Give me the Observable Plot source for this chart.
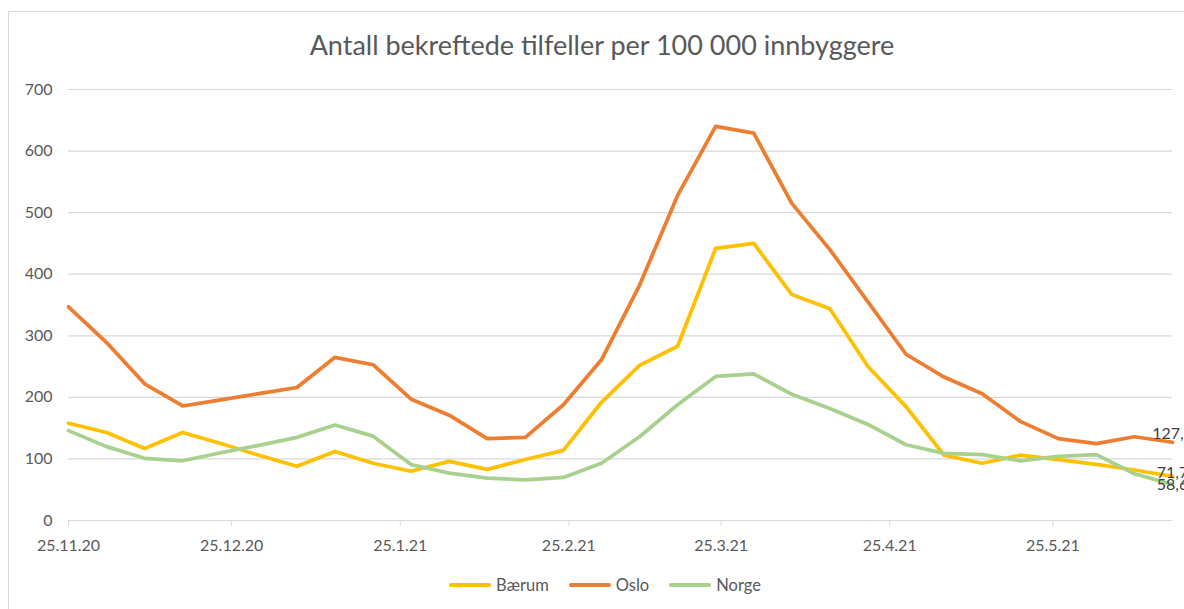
<!DOCTYPE html>
<html>
<head>
<meta charset="utf-8">
<script src="https://cdn.jsdelivr.net/npm/d3@7"></script>
<script src="https://cdn.jsdelivr.net/npm/@observablehq/plot@0.6"></script>
<style>
  html, body { margin: 0; padding: 0; background: #fff; }
  #wrap { position: relative; width: 1184px; height: 609px; overflow: hidden; background: #fff; font-family: Lato, "Open Sans", sans-serif; }
  #frame { position: absolute; left: 8px; top: 11px; width: 1300px; height: 800px; border: 1.5px solid #d9d9d9; box-sizing: border-box; }
  #title { position: absolute; left: 0; top: 28px; width: 1204px; text-align: center; font-size: 27px; color: #595959; }
  #chart { position: absolute; left: 0; top: 60px; }
  #legend { position: absolute; left: 0; top: 575px; width: 1210px; display: flex; justify-content: center; align-items: center; font-size: 16.5px; color: #595959; }
  .item { display: flex; align-items: center; margin: 0 10px; }
  .sw { width: 42px; height: 4px; border-radius: 2px; margin-right: 5px; }
</style>
</head>
<body>
<div id="wrap">
  <div id="frame"></div>
  <div id="title">Antall bekreftede tilfeller per 100 000 innbyggere</div>
  <div id="chart"></div>
  <div id="legend"></div>
</div>
<script>
const dates = ["2020-11-25","2020-12-02","2020-12-09","2020-12-16","2020-12-23","2020-12-30",
  "2021-01-06","2021-01-13","2021-01-20","2021-01-27","2021-02-03","2021-02-10","2021-02-17","2021-02-24",
  "2021-03-03","2021-03-10","2021-03-17","2021-03-24","2021-03-31","2021-04-07","2021-04-14","2021-04-21",
  "2021-04-28","2021-05-05","2021-05-12","2021-05-19","2021-05-26","2021-06-02","2021-06-09","2021-06-16"];
const baerum = [158, 143, 117, 143, 125, 106, 88, 112, 93, 80, 96, 83, 99, 114, 192, 252, 283, 442, 450, 367, 344, 250, 185, 106, 93, 106, 99, 91, 82, 71.7];
const oslo   = [347, 289, 222, 186, 196, 206, 216, 265, 253, 197, 171, 133, 135, 188, 261, 382, 528, 640, 629, 515, 440, 355, 270, 233, 206, 161, 133, 125, 136, 127.1];
const norge  = [146, 120, 101, 97, 110, 122, 135, 155, 137, 91, 77, 69, 66, 70, 93, 136, 188, 234, 238, 205, 182, 156, 123, 109, 107, 97, 104, 107, 76, 58.6];
const seriesNames = ["Bærum", "Oslo", "Norge"];
const seriesColors = ["#FFC000", "#ED7D31", "#A9D18E"];
const xTickDates = ["2020-11-25","2020-12-25","2021-01-25","2021-02-25","2021-03-25","2021-04-25","2021-05-25"];
const yTicks = [0, 100, 200, 300, 400, 500, 600, 700];

const parse = d3.utcParse("%Y-%m-%d");
const seriesValues = [baerum, oslo, norge];
const rows = [];
seriesNames.forEach((name, i) => {
  dates.forEach((d, j) => rows.push({series: name, date: parse(d), value: seriesValues[i][j]}));
});
const last = seriesNames.map((name, i) => ({series: name, date: parse(dates[dates.length - 1]), value: seriesValues[i][dates.length - 1]}));
const labelOffsets = [-3, -8, 0];
const fmt = v => String(v).replace(".", ",");

const plot = Plot.plot({
  width: 1184,
  height: 500,
  marginLeft: 68,
  marginRight: 12,
  marginTop: 29,
  marginBottom: 40,
  style: { fontFamily: "Lato, 'Open Sans', sans-serif", fontSize: "16px", background: "transparent", overflow: "visible" },
  x: { type: "utc", domain: [parse(dates[0]), parse(dates[dates.length - 1])] },
  y: { domain: [0, 700] },
  color: { domain: seriesNames, range: seriesColors },
  marks: [
    Plot.ruleY(yTicks, { stroke: "#d9d9d9", strokeWidth: 1.2 }),
    Plot.axisY({ ticks: yTicks, tickSize: 0, tickPadding: 16, fill: "#595959", label: null, fontSize: 16 }),
    Plot.axisX({ ticks: xTickDates.map(parse), tickFormat: d3.utcFormat("%-d.%-m.%y"), tickSize: 6, tickPadding: 13, stroke: "#d9d9d9", fill: "#595959", label: null, fontSize: 16 }),
    Plot.line(rows, { x: "date", y: "value", z: "series", stroke: "series", strokeWidth: 3.75, strokeLinejoin: "round", strokeLinecap: "round" }),
    ...last.map((d, i) => Plot.text([d], { x: "date", y: "value", text: e => fmt(e.value), dy: labelOffsets[i], fill: "#404040", fontSize: 16, textAnchor: "middle" }))
  ]
});
document.getElementById("chart").appendChild(plot);

const legend = document.getElementById("legend");
seriesNames.forEach((name, i) => {
  const item = document.createElement("div");
  item.className = "item";
  const sw = document.createElement("span");
  sw.className = "sw";
  sw.style.background = seriesColors[i];
  const t = document.createElement("span");
  t.textContent = name;
  item.appendChild(sw); item.appendChild(t);
  legend.appendChild(item);
});
</script>
</body>
</html>
